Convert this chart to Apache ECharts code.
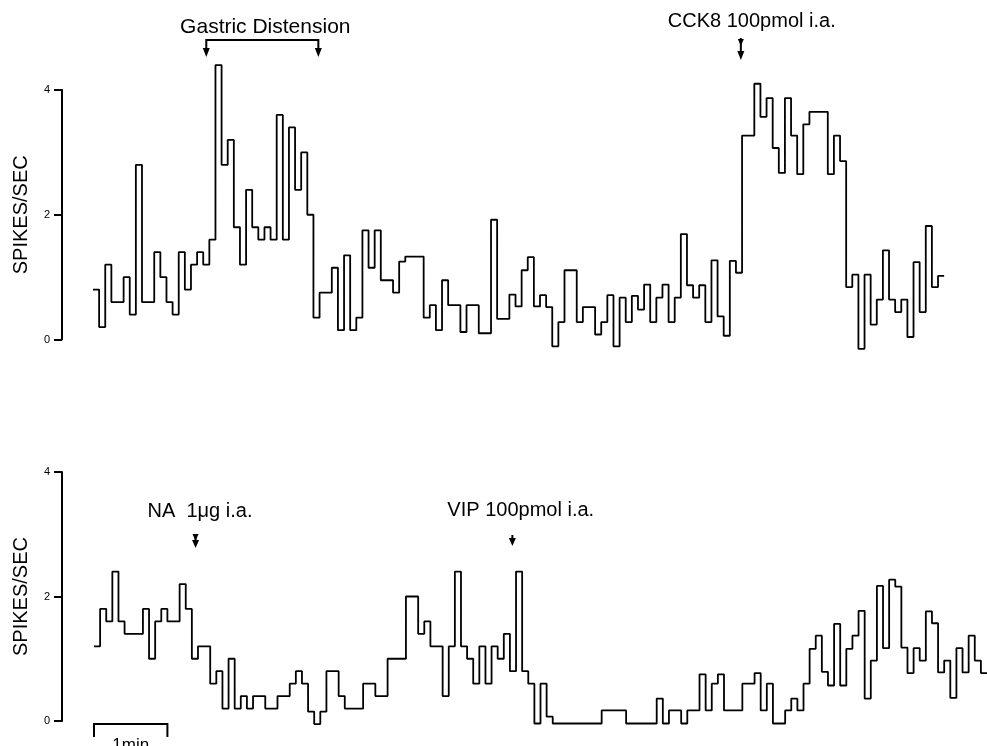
<!DOCTYPE html>
<html>
<head>
<meta charset="utf-8">
<script src="https://cdn.jsdelivr.net/npm/echarts@6/dist/echarts.min.js"></script>
<style>
html,body{margin:0;padding:0;background:#fff;}
#c{width:987px;height:746px;}
</style>
</head>
<body>
<div id="c"></div>
<script>
// ---- data (5 s bins, spikes/sec) ----
const binSeconds = 5;
const topRate = [
0.8,0.2,1.2,0.6,0.6,1.0,0.4,2.8,0.6,0.6,
1.4,1.0,0.6,0.4,1.4,0.8,1.2,1.4,1.2,1.6,
4.4,2.8,3.2,1.8,1.2,2.4,1.8,1.6,1.8,1.6,
3.6,1.6,3.4,2.4,3.0,2.0,0.35,0.75,0.75,1.15,
0.15,1.35,0.15,0.35,1.75,1.15,1.75,0.95,0.95,0.75,
1.25,1.33,1.33,1.33,0.35,0.55,0.15,0.95,0.55,0.55,
0.12,0.55,0.55,0.1,0.1,1.92,0.33,0.33,0.72,0.53,
1.11,1.32,0.53,0.71,0.52,-0.11,0.28,1.11,1.11,0.28,
0.52,0.52,0.08,0.28,0.71,-0.11,0.67,0.28,0.7,0.48,
0.88,0.28,0.67,0.88,0.28,0.67,1.69,0.87,0.67,0.87,
0.28,1.27,0.37,0.06,1.26,1.07,3.27,3.27,4.1,3.57,
3.87,3.07,2.67,3.87,3.27,2.65,3.45,3.65,3.65,3.65,
2.65,3.27,2.86,0.84,1.04,-0.15,1.04,0.24,0.64,1.43,
0.64,0.44,0.64,0.04,1.24,0.44,1.82,0.84,1.02
];
const bottomRate = [
1.2,1.8,1.6,2.4,1.6,1.4,1.4,1.4,1.8,1.0,
1.6,1.8,1.6,1.6,2.2,1.8,1.0,1.2,1.2,0.6,
0.8,0.2,1.0,0.2,0.4,0.2,0.4,0.4,0.2,0.2,
0.4,0.4,0.6,0.8,0.6,0.15,-0.05,0.15,0.8,0.8,
0.4,0.2,0.2,0.2,0.6,0.6,0.4,0.4,1.0,1.0,
1.0,2.0,2.0,1.4,1.6,1.2,1.2,0.4,1.2,2.4,
1.2,1.0,0.6,1.2,0.6,1.2,1.0,1.4,0.8,2.4,
0.8,0.6,-0.04,0.6,0.07,-0.04,-0.04,-0.04,-0.04,-0.04,
-0.04,-0.04,-0.04,0.17,0.17,0.17,0.17,-0.04,-0.04,-0.04,
-0.04,-0.04,0.36,-0.04,0.17,0.17,-0.04,0.17,0.17,0.75,
0.17,0.6,0.75,0.17,0.17,0.17,0.6,0.6,0.77,0.17,
0.6,-0.04,-0.04,0.17,0.36,0.17,0.6,1.16,1.37,0.79,
0.57,1.56,0.57,1.16,1.37,1.77,0.36,0.97,2.17,1.17,
2.27,2.16,1.18,0.77,1.17,0.97,1.76,1.57,0.78,0.97,
0.37,1.17,0.78,1.37,0.97,0.77
];
const yTickValues = [0, 2, 4];
const yAxisTitle = 'SPIKES/SEC';
// event times, in bins
const gastricBins = [18.5, 36.8];
const cckBin = 105.8;
const naBin = 16.6;
const vipBin = 68.4;
const scaleBarBins = 60 / binSeconds; // 1 min
const totalBins = 146;

function stepData(arr) {
  const d = arr.map((v, i) => [i, v]);
  d.push([arr.length, arr[arr.length - 1]]);
  return d;
}

const chart = echarts.init(document.getElementById('c'), null, {renderer: 'canvas'});
const FONT = '"Liberation Sans", Arial, Helvetica, sans-serif';

function yAxisCfg(gi, off) {
  return {
    type: 'value', gridIndex: gi, min: 0, max: 4, interval: 2, offset: off, position: 'left',
    name: yAxisTitle, nameLocation: 'middle', nameRotate: 90, nameGap: 31,
    nameTextStyle: {fontFamily: FONT, fontSize: 20, color: '#000'},
    axisLine: {show: true, onZero: false, lineStyle: {color: '#000', width: 2}},
    axisTick: {show: true, length: 8, lineStyle: {color: '#000', width: 2}},
    axisLabel: {show: true, margin: 12, fontFamily: FONT, fontSize: 11, color: '#000',
      formatter: v => yTickValues.indexOf(v) >= 0 ? String(v) : ''},
    splitLine: {show: false}
  };
}
function xAxisCfg(gi) {
  return {type: 'value', gridIndex: gi, min: 0, max: totalBins, show: false,
    axisLine: {show: false, onZero: false}, splitLine: {show: false}};
}

chart.setOption({
  animation: false,
  backgroundColor: '#fff',
  grid: [
    {left: 93, top: 90, width: 902, height: 249.5},
    {left: 94, top: 472, width: 902, height: 249}
  ],
  xAxis: [xAxisCfg(0), xAxisCfg(1)],
  yAxis: [yAxisCfg(0, 31), yAxisCfg(1, 32)],
  series: [
    {type: 'line', xAxisIndex: 0, yAxisIndex: 0, step: 'end', data: stepData(topRate),
     symbol: 'none', clip: false, lineStyle: {color: '#000', width: 1.8}},
    {type: 'line', xAxisIndex: 1, yAxisIndex: 1, step: 'end', data: stepData(bottomRate),
     symbol: 'none', clip: false, lineStyle: {color: '#000', width: 1.8}}
  ]
});

function px(gi, x, y) { return chart.convertToPixel({gridIndex: gi}, [x, y]); }
const S = {stroke: '#000', lineWidth: 2};
function head(x, y, w, h) {
  return {type: 'polygon', shape: {points: [[x - w, y - h], [x + w, y - h], [x, y]]}, style: {fill: '#000'}};
}
function line(x1, y1, x2, y2) {
  return {type: 'line', shape: {x1, y1, x2, y2}, style: S};
}
function text(t, x, y, size, align) {
  return {type: 'text', x, y, style: {text: t, fill: '#000', font: size + 'px ' + FONT,
    fontSize: size, fontFamily: FONT, align: align, textAlign: align,
    verticalAlign: 'middle', textVerticalAlign: 'middle'}};
}

const g = [];
// Gastric distension bracket
const gx1 = px(0, gastricBins[0], 0)[0], gx2 = px(0, gastricBins[1], 0)[0];
g.push({type: 'polyline', shape: {points: [[gx1, 50], [gx1, 40], [gx2, 40], [gx2, 50]]}, style: Object.assign({fill: null}, S)});
g.push(head(gx1, 57, 3.5, 9), head(gx2, 57, 3.5, 9));
g.push(text('Gastric Distension', (gx1 + gx2) / 2 + 3, 27.5, 21, 'center'));
// CCK8
const cx = px(0, cckBin, 0)[0];
g.push(text('CCK8 100pmol i.a.', cx - 73, 21, 20, 'left'));
g.push(line(cx, 38, cx, 52), head(cx, 46, 3, 7), head(cx, 60, 3.5, 9));
// NA
const nx = px(1, naBin, 0)[0];
g.push(text('NA  1μg i.a.', nx - 48, 511, 20, 'left'));
g.push(line(nx, 534, nx, 540), head(nx, 541, 3, 7), head(nx, 548, 3.5, 8));
// VIP
const vx = px(1, vipBin, 0)[0];
g.push(text('VIP 100pmol i.a.', vx - 65, 510.5, 20, 'left'));
g.push(line(vx, 535, vx, 540), head(vx, 546, 3.5, 8));
// 1 min scale bar
const sx1 = px(1, 0, 0)[0], sx2 = px(1, scaleBarBins, 0)[0];
g.push({type: 'polyline', shape: {points: [[sx1, 737], [sx1, 724], [sx2, 724], [sx2, 737]]}, style: Object.assign({fill: null}, S)});
g.push(text('1min', (sx1 + sx2) / 2, 745, 17, 'center'));

chart.setOption({graphic: g});
</script>
</body>
</html>
